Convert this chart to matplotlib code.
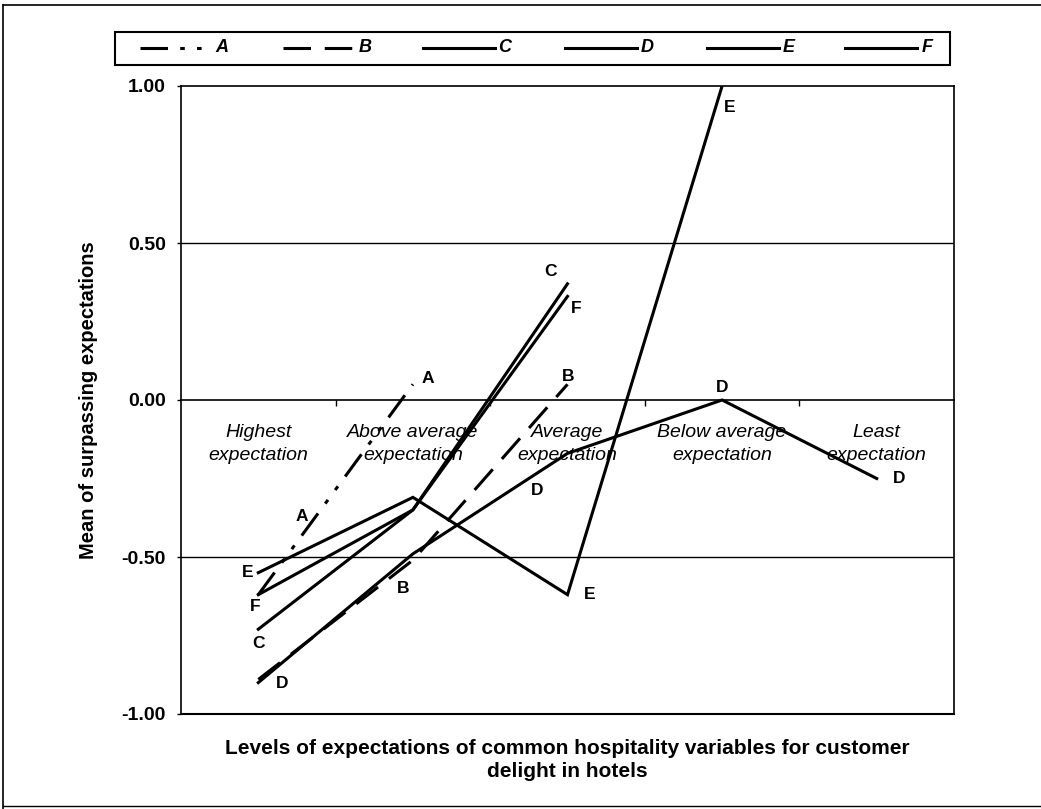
import matplotlib.pyplot as plt
from matplotlib.lines import Line2D
from matplotlib.patches import Rectangle

# category axis (crosses at 0)
categories = ['Highest\nexpectation', 'Above average\nexpectation', 'Average\nexpectation',
              'Below average\nexpectation', 'Least\nexpectation']
yticks = [-1.0, -0.5, 0.0, 0.5, 1.0]

# series values
series_names = ['A', 'B', 'C', 'D', 'E', 'F']
A = [-0.62, 0.05]
B = [-0.89, -0.51, 0.05]
C = [-0.73, -0.35, 0.37]
D = [-0.90, -0.49, -0.17, 0.00, -0.25]
E = [-0.55, -0.31, -0.62, 1.00]
F = [-0.62, -0.35, 0.33]
values = [A, B, C, D, E, F]

W, H = 1041, 809
lw = 2.2
styles = {
    'A': (0, (9, 4, 1.5, 4, 1.5, 4)),
    'B': (0, (9, 4.5)),
    'C': '-', 'D': '-', 'E': '-', 'F': '-',
}

# which point gets a name label, and the label offset in pixels (dx, dy up)
point_labels = [
    ('A', 0, 44, 78), ('A', 1, 15, 6),
    ('B', 1, -10, -28), ('B', 2, 1, 8),
    ('C', 0, 0, -14), ('C', 2, -17, 12),
    ('D', 0, 24, -1), ('D', 2, -30, -37), ('D', 3, 0, 13), ('D', 4, 22, 0),
    ('E', 0, -11, 0), ('E', 2, 22, 0), ('E', 3, 8, -21),
    ('F', 0, -3, -12), ('F', 2, 9, -12),
]

plt.rcParams['font.family'] = ['Liberation Sans', 'DejaVu Sans']

fig = plt.figure(figsize=(W / 100, H / 100), dpi=100)
ax = fig.add_axes([181 / W, 1 - 714 / H, 773 / W, 628 / H])

for name, vals in zip(series_names, values):
    ax.plot(range(len(vals)), vals, color='black', lw=lw, linestyle=styles[name],
            solid_joinstyle='miter', zorder=3)

for name, i, dx, dy in point_labels:
    vals = values[series_names.index(name)]
    ax.annotate(name, (i, vals[i]), xytext=(dx * 0.72, dy * 0.72), textcoords='offset points',
                ha='center', va='center', fontsize=12.5, fontweight='bold', zorder=4)

# category labels sit just below the axis at 0
for i, cat in enumerate(categories):
    ax.text(i, -0.14, cat, ha='center', va='center', fontsize=14, style='italic',
            linespacing=1.45, zorder=1)

ax.set_xlim(-0.5, len(categories) - 0.5)
ax.set_ylim(-1, 1)
ax.set_yticks(yticks)
ax.set_yticklabels(['%.2f' % v for v in yticks], fontsize=14, fontweight='bold')
ax.tick_params(axis='y', direction='out', length=3, width=1, pad=8)

ax.spines['bottom'].set_position(('data', 0))
ax.set_xticks([i + 0.5 for i in range(len(categories) - 1)])
ax.set_xticklabels([])
ax.tick_params(axis='x', direction='out', length=4, width=1)
for s in ax.spines.values():
    s.set_linewidth(1.2)
ax.axhline(0.5, color='black', lw=1)
ax.axhline(-0.5, color='black', lw=1)
ax.axhline(-1.0, color='black', lw=1.5, clip_on=False)

ax.set_ylabel('Mean of surpassing expectations', fontsize=14.5, fontweight='bold')
ax.yaxis.set_label_coords(-0.108, 0.5)
fig.text(567 / W, 1 - 760 / H,
         'Levels of expectations of common hospitality variables for customer\ndelight in hotels',
         ha='center', va='center', fontsize=15, fontweight='bold', linespacing=1.25)


def px(x, y):
    return x / W, 1 - y / H


# legend box drawn by hand
x0, y0 = px(115, 65)
x1, y1 = px(950, 32)
fig.add_artist(Rectangle((x0, y0), x1 - x0, y1 - y0, transform=fig.transFigure,
                         fill=False, edgecolor='black', lw=1.5))
leg_x = [140, 283, 423, 565, 707, 845]
for name, lx in zip(series_names, leg_x):
    xa, ya = px(lx, 48)
    xb, _ = px(lx + 72, 48)
    fig.add_artist(Line2D([xa, xb], [ya, ya], color='black', lw=lw, linestyle=styles[name],
                          transform=fig.transFigure))
    fig.text(px(lx + 82, 48)[0], ya, name, ha='center', va='center', fontsize=13,
             fontweight='bold', style='italic')

# outer frame
fig.add_artist(Line2D([3 / W, 1], [1 - 5 / H, 1 - 5 / H], color='black', lw=1.2,
                      transform=fig.transFigure))
fig.add_artist(Line2D([3 / W, 3 / W], [1 - 5 / H, 0], color='black', lw=1.2,
                      transform=fig.transFigure))
fig.add_artist(Line2D([3 / W, 1], [1 - 806 / H, 1 - 806 / H], color='black', lw=1,
                      transform=fig.transFigure))

fig.savefig('out.png', dpi=100)
